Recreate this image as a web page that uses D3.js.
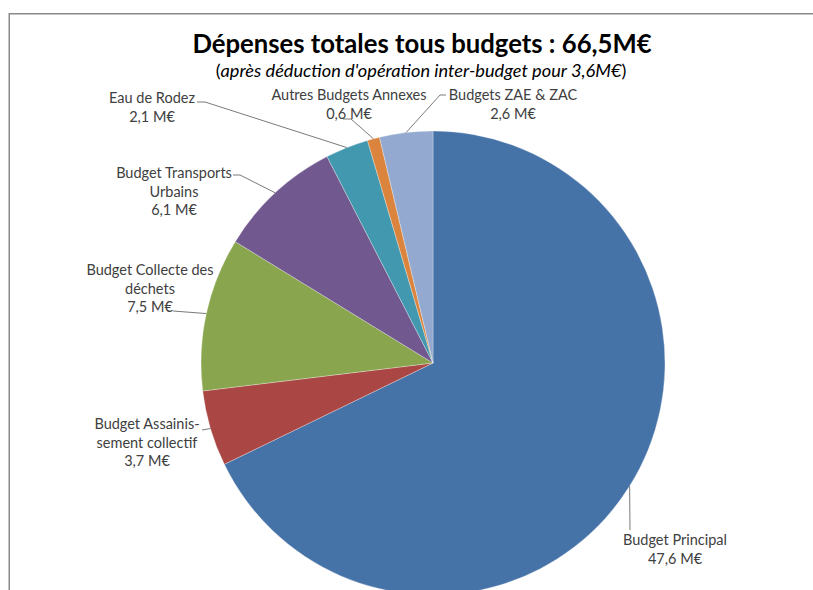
<!DOCTYPE html>
<html>
<head>
<meta charset="utf-8">
<script src="https://cdn.jsdelivr.net/npm/d3@7"></script>
<style>
  html, body { margin: 0; padding: 0; background: #fff; }
  svg { display: block; }
</style>
</head>
<body>
<svg id="chart" width="813" height="590"></svg>
<script>
// ---- data ----
const categories = ["Budget Principal", "Budget Assainissement collectif", "Budget Collecte des déchets",
  "Budget Transports Urbains", "Eau de Rodez", "Autres Budgets Annexes", "Budgets ZAE & ZAC"];
const values = [47.6, 3.7, 7.5, 6.1, 2.1, 0.6, 2.6];
const valueLabels = ["47,6 M€", "3,7 M€", "7,5 M€", "6,1 M€", "2,1 M€", "0,6 M€", "2,6 M€"];
const labelLines = [
  ["Budget Principal"],
  ["Budget Assainis-", "sement collectif"],
  ["Budget Collecte des", "déchets"],
  ["Budget Transports", "Urbains"],
  ["Eau de Rodez"],
  ["Autres Budgets Annexes"],
  ["Budgets ZAE & ZAC"]
];
const colors = ["#4572A7", "#AA4643", "#89A54E", "#71588F", "#4198AF", "#DB843D", "#93A9CF"];
const titleText = "Dépenses totales tous budgets : 66,5M€";
const subtitleText = "après déduction d'opération inter-budget pour 3,6M€";

// ---- label layout (text centre x, first baseline y, leader elbow points) ----
const labelLayout = [
  { cx: 675, y: 545, pts: [[630, 530]] },
  { cx: 147, y: 429, pts: [[202, 430]] },
  { cx: 150, y: 275, pts: [[173, 311]] },
  { cx: 174, y: 178, pts: [[240, 175], [233, 175]] },
  { cx: 152, y: 103, pts: [[205, 102], [197, 102]] },
  { cx: 349, y: 100, pts: [[351, 119], [343, 119]] },
  { cx: 513, y: 100, pts: [[440, 95], [446, 95]] }
];

const W = 813, H = 590;
const cx = 433, cy = 363, R = 232;
const svg = d3.select("#chart");

// frame
svg.append("path")
  .attr("d", `M9.25,${H} L9.25,13.75 L${W},13.75`)
  .attr("fill", "none").attr("stroke", "#8a8a8a").attr("stroke-width", 1.5);

const pie = d3.pie().sort(null).value(d => d)(values);
const arc = d3.arc().innerRadius(0).outerRadius(R);

const g = svg.append("g").attr("transform", `translate(${cx},${cy})`);
g.selectAll("path.slice").data(pie).join("path")
  .attr("class", "slice")
  .attr("d", arc)
  .attr("fill", (d, i) => colors[i])
  .attr("stroke", "#fff").attr("stroke-width", 0.3);

// leader lines
pie.forEach((d, i) => {
  const a = (d.startAngle + d.endAngle) / 2;
  const p0 = [cx + Math.sin(a) * R, cy - Math.cos(a) * R];
  const pts = [p0].concat(labelLayout[i].pts);
  svg.append("path")
    .attr("d", d3.line()(pts))
    .attr("fill", "none").attr("stroke", "#7a7a7a").attr("stroke-width", 1);
});

// labels
const lineH = 18.5;
pie.forEach((d, i) => {
  const L = labelLayout[i];
  const lines = labelLines[i].concat([valueLabels[i]]);
  const t = svg.append("text")
    .attr("text-anchor", "middle")
    .attr("font-family", "Lato, 'Open Sans', sans-serif")
    .attr("font-size", 14.5)
    .attr("fill", "#404040");
  lines.forEach((s, k) => {
    t.append("tspan").attr("x", L.cx).attr("y", L.y + k * lineH).text(s);
  });
});

// title
svg.append("text")
  .attr("x", 422).attr("y", 53)
  .attr("text-anchor", "middle")
  .attr("font-family", "Lato, 'Open Sans', sans-serif")
  .attr("font-weight", "bold")
  .attr("font-size", 25.7)
  .attr("fill", "#000")
  .text(titleText);

const sub = svg.append("text")
  .attr("x", 421).attr("y", 77)
  .attr("text-anchor", "middle")
  .attr("font-family", "Lato, 'Open Sans', sans-serif")
  .attr("font-size", 18.2)
  .attr("fill", "#000");
sub.append("tspan").text("(");
sub.append("tspan").attr("font-style", "italic").text(subtitleText);
sub.append("tspan").text(")");
</script>
</body>
</html>
